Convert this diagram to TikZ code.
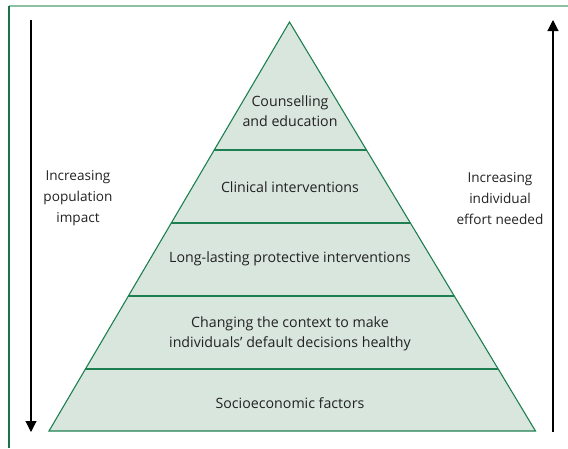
\documentclass[tikz,border=0pt]{standalone}
\usepackage{fontspec}
\setmainfont{Open Sans}
\usepackage{tikz}
\usetikzlibrary{calc,arrows.meta}
\definecolor{tierfill}{RGB}{217,230,221}
\definecolor{tierline}{RGB}{30,128,80}
\definecolor{frametop}{RGB}{140,192,160}
\definecolor{frameleft}{RGB}{30,112,72}
\definecolor{txt}{RGB}{34,34,34}
\tikzset{
  tier/.style={font=\fontsize{14.2}{20.5}\selectfont, text=txt, align=center},
  side/.style={font=\fontsize{13.6}{21}\selectfont, text=txt, align=center},
  trend/.style={line width=1.1pt, -{Triangle[length=11pt,width=11pt]}}
}

\begin{document}
\begin{tikzpicture}[x=1pt,y=-1pt]
  \useasboundingbox (0,0) rectangle (568,448);
  \draw[frametop, line width=1.6pt] (9,6) -- (568,6);   % top rule
  \draw[frameleft, line width=1.2pt] (9,6) -- (9,448);  % left rule

  \coordinate (top) at (289.5,22);
  \coordinate (bl) at (49,431);
  \coordinate (br) at (535.5,431);
  \filldraw[fill=tierfill, draw=tierline, line width=1.1pt, line join=miter]
    (top) -- (br) -- (bl) -- cycle;
  \foreach \t in {0.3130,0.4914,0.6699,0.8484}
    \draw[tierline, line width=1.1pt] ($(top)!\t!(bl)$) -- ($(top)!\t!(br)$);

  \node[tier] (counsel) at (290,111) {Counselling\\and education};
  \node[tier] (clinical) at (290,187) {Clinical interventions};
  \node[tier] (lasting) at (290,259) {Long-lasting protective interventions};
  \node[tier] (context) at (290,334) {Changing the context to make\\individuals’ default decisions healthy};
  \node[tier] (socio) at (290,403) {Socioeconomic factors};

  \coordinate (popstart) at (31,20);
  \coordinate (popend) at (31,432);
  \coordinate (effstart) at (553,432);
  \coordinate (effend) at (553,20);
  \draw[trend] (popstart) -- (popend);   % down: population impact
  \draw[trend] (effstart) -- (effend);   % up: individual effort
  \node[side] (pop) at (78,198) {Increasing\\population\\impact};
  \node[side] (eff) at (500,199) {Increasing\\individual\\effort needed};
\end{tikzpicture}
\end{document}
